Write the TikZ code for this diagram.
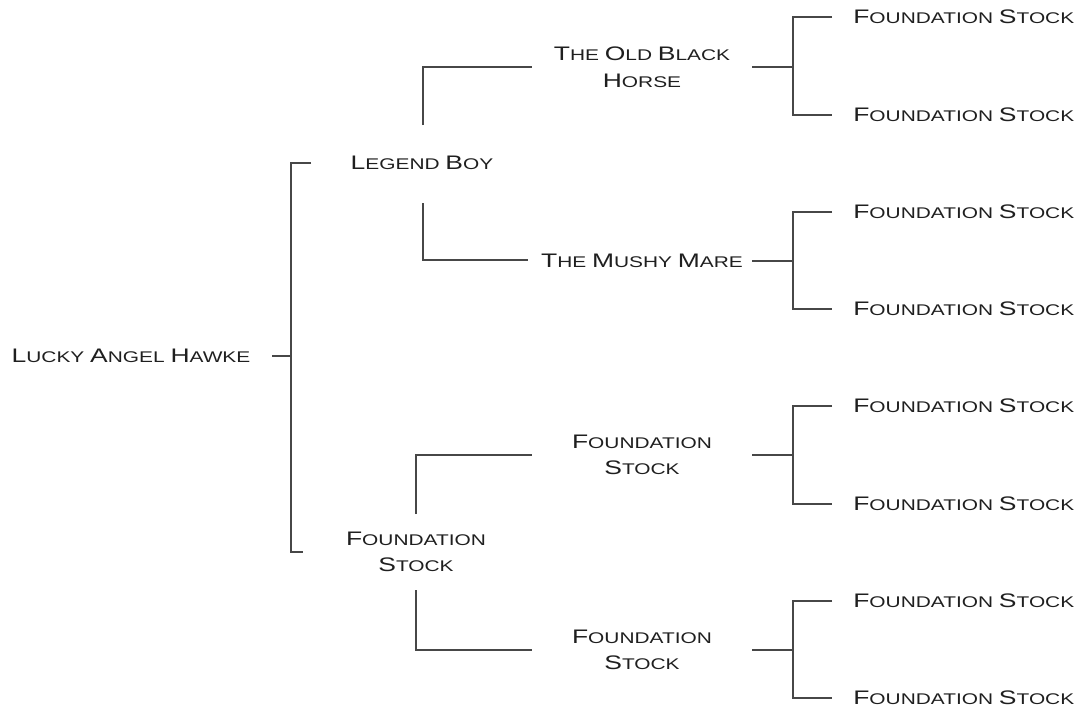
\documentclass[tikz,border=0pt]{standalone}
\usepackage{fontspec}
\newfontfamily\cgfont[FakeStretch=1.35]{Liberation Sans}
\newcommand\Cp[1]{{\fontsize{14.7pt}{20pt}\selectfont #1}}
\tikzset{
  lbl/.style={font=\cgfont\fontsize{11.6pt}{20pt}\selectfont, text=black!88, inner sep=0pt, align=center},
  leaf/.style={lbl, anchor=west},
  ln/.style={draw=black!72, line width=1pt}
}
\begin{document}
\begin{tikzpicture}[x=0.75pt,y=-0.75pt]
\useasboundingbox (0,0) rectangle (1081,707);

% labels
\node[lbl] (root) at (131,356) {\Cp{L}UCKY \Cp{A}NGEL \Cp{H}AWKE};
\node[lbl] (lb) at (422,163) {\Cp{L}EGEND \Cp{B}OY};
\node[lbl] (fsa) at (416,552) {\Cp{F}OUNDATION\\\Cp{S}TOCK};
\node[lbl] (ob) at (642,67) {\Cp{T}HE \Cp{O}LD \Cp{B}LACK\\\Cp{H}ORSE};
\node[lbl] (mm) at (642,261) {\Cp{T}HE \Cp{M}USHY \Cp{M}ARE};
\node[lbl] (fsb) at (642,455) {\Cp{F}OUNDATION\\\Cp{S}TOCK};
\node[lbl] (fsc) at (642,650) {\Cp{F}OUNDATION\\\Cp{S}TOCK};
\foreach \n/\y in {l1/17,l2/115,l3/212,l4/309,l5/406,l6/504,l7/601,l8/698}
  \node[leaf] (\n) at (853,\y) {\Cp{F}OUNDATION \Cp{S}TOCK};

% root bracket
\coordinate (r0) at (272,356);
\coordinate (rj) at (291,356);
\coordinate (rt) at (311,163);
\coordinate (rb) at (303,552);
\draw[ln] (r0) -- (rj);
\draw[ln] (rt) -| (rj) |- (rb);

% Legend Boy connectors
\coordinate (lbu) at (423,125);
\coordinate (lbd) at (423,203);
\coordinate (obl) at (532,67);
\coordinate (mml) at (528,260);
\draw[ln] (lbu) |- (obl);
\draw[ln] (lbd) |- (mml);

% Foundation Stock (level 1) connectors
\coordinate (fau) at (416,514);
\coordinate (fad) at (416,590);
\coordinate (fbl) at (532,455);
\coordinate (fcl) at (532,650);
\draw[ln] (fau) |- (fbl);
\draw[ln] (fad) |- (fcl);

% right brackets
\foreach \m/\y/\a/\b in {ob/67/17/115, mm/261/212/309, fsb/455/406/504, fsc/650/601/698}{
  \coordinate (\m-r) at (752,\y);
  \coordinate (\m-j) at (793,\y);
  \coordinate (\m-t) at (832,\a);
  \coordinate (\m-b) at (832,\b);
  \draw[ln] (\m-r) -- (\m-j);
  \draw[ln] (\m-t) -| (\m-j) |- (\m-b);
}
\end{tikzpicture}
\end{document}
